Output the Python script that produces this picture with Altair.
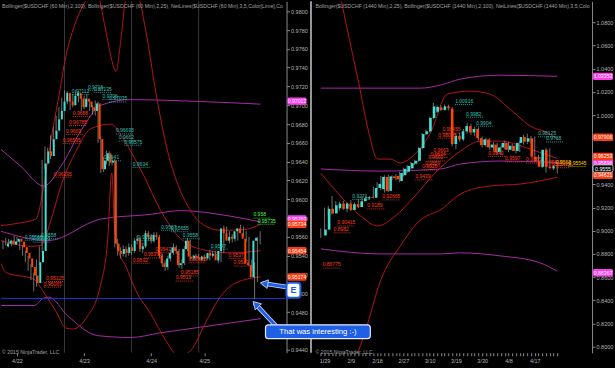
import altair as alt
import pandas as pd

BG = "#000000"
UP = "#40e0d0"
DN = "#ff4500"
WICK = "#8c8c8c"
BB25 = "#b5141c"
BB100 = "#a52aa8"
AXC = "#b4b4b4"
BLUE = "#1f5fe6"
FONT = "Liberation Sans"

# ---------------- left panel : $USDCHF 60 min ----------------
L_OPEN = [0.9550,0.9553,0.9556,0.9552,0.9555,0.9558,0.9555,0.9549,0.9543,0.9537,
          0.9528,0.9519,0.9511,0.9533,0.9545,0.9638,0.9651,0.9646,0.9664,0.9673,
          0.9685,0.9694,0.9704,0.9713,0.9704,0.9700,0.9710,0.9713,0.9707,0.9698,
          0.9707,0.9704,0.9698,0.9694,0.9702,0.9664,0.9632,0.9641,0.9649,0.9639,
          0.9641,0.9553,0.9545,0.9542,0.9547,0.9543,0.9549,0.9545,0.9556,0.9558,
          0.9547,0.9550,0.9564,0.9560,0.9556,0.9562,0.9560,0.9540,0.9532,0.9528,
          0.9537,0.9543,0.9549,0.9545,0.9530,0.9532,0.9547,0.9556,0.9539,0.9537,
          0.9540,0.9538,0.9536,0.9539,0.9537,0.9543,0.9540,0.9542,0.9535,0.9545,
          0.9569,0.9564,0.9556,0.9560,0.9558,0.9566,0.9569,0.9564,0.9558,0.9532,
          0.9530,0.9517,0.9556]
L_CLOSE = [0.9553,0.9556,0.9552,0.9555,0.9558,0.9555,0.9549,0.9543,0.9537,0.9528,
           0.9519,0.9511,0.9533,0.9545,0.9638,0.9651,0.9646,0.9664,0.9673,0.9685,
           0.9694,0.9704,0.9713,0.9704,0.9700,0.9710,0.9713,0.9707,0.9698,0.9707,
           0.9704,0.9698,0.9694,0.9702,0.9664,0.9632,0.9641,0.9649,0.9639,0.9641,
           0.9553,0.9545,0.9542,0.9547,0.9543,0.9549,0.9545,0.9556,0.9558,0.9547,
           0.9550,0.9564,0.9560,0.9556,0.9562,0.9560,0.9540,0.9532,0.9528,0.9537,
           0.9543,0.9549,0.9545,0.9530,0.9532,0.9547,0.9556,0.9539,0.9537,0.9540,
           0.9538,0.9536,0.9539,0.9537,0.9543,0.9540,0.9542,0.9535,0.9545,0.9569,
           0.9564,0.9556,0.9560,0.9558,0.9566,0.9569,0.9564,0.9558,0.9532,0.9530,
           0.9517,0.9556,0.9559]
L_HIGH = [0.9556,0.9559,0.9558,0.9557,0.9561,0.9560,0.9557,0.9551,0.9545,0.9540,
          0.9531,0.9522,0.9536,0.9550,0.9642,0.9656,0.9655,0.9668,0.9677,0.9689,
          0.9698,0.9708,0.9716,0.9715,0.9707,0.9712,0.9716,0.9715,0.9709,0.9710,
          0.9712,0.9706,0.9700,0.9705,0.9704,0.9667,0.9645,0.9652,0.9651,0.9645,
          0.9643,0.9558,0.9549,0.9551,0.9550,0.9553,0.9552,0.9559,0.9562,0.9560,
          0.9554,0.9567,0.9566,0.9563,0.9565,0.9565,0.9562,0.9542,0.9535,0.9540,
          0.9546,0.9553,0.9551,0.9547,0.9536,0.9550,0.9559,0.9557,0.9541,0.9542,
          0.9542,0.9540,0.9541,0.9541,0.9546,0.9545,0.9545,0.9544,0.9548,0.9572,
          0.9571,0.9566,0.9563,0.9562,0.9569,0.9573,0.9571,0.9566,0.9560,0.9536,
          0.9533,0.9560,0.9566]
L_LOW = [0.9547,0.9551,0.9549,0.9550,0.9553,0.9552,0.9546,0.9540,0.9533,0.9524,
         0.9514,0.9502,0.9507,0.9530,0.9543,0.9632,0.9640,0.9643,0.9660,0.9670,
         0.9681,0.9690,0.9700,0.9701,0.9695,0.9698,0.9707,0.9703,0.9694,0.9696,
         0.9700,0.9694,0.9690,0.9689,0.9660,0.9628,0.9629,0.9637,0.9635,0.9636,
         0.9549,0.9540,0.9537,0.9539,0.9538,0.9540,0.9541,0.9543,0.9552,0.9544,
         0.9543,0.9548,0.9556,0.9553,0.9554,0.9557,0.9537,0.9528,0.9524,0.9525,
         0.9534,0.9541,0.9542,0.9527,0.9526,0.9530,0.9545,0.9536,0.9534,0.9535,
         0.9536,0.9534,0.9534,0.9535,0.9535,0.9538,0.9538,0.9532,0.9533,0.9543,
         0.9560,0.9553,0.9554,0.9555,0.9556,0.9564,0.9561,0.9555,0.9529,0.9524,
         0.9494,0.9512,0.9552]

L_DAY_TICKS = [5, 29, 53, 72]
L_DAY_LABELS = ["4/22", "4/23", "4/24", "4/25"]
L_SESSIONS = [22, 46, 70]
L_Y_TICKS = [0.944, 0.946, 0.948, 0.950, 0.952, 0.954, 0.956, 0.958, 0.960, 0.962,
             0.964, 0.966, 0.968, 0.970, 0.972, 0.974, 0.976, 0.978, 0.980]

L_BB25_UPPER = [(-0.7,0.9572),(6.4,0.9575),(11.8,0.9579),(14.3,0.9609),(17.1,0.9662),(20.0,0.9710),
                (22.5,0.9752),(26.1,0.9789),(29.6,0.9811),(33.2,0.9821),(36.8,0.9779),(38.6,0.9752),
                (40.4,0.9736),(42.1,0.9768),(43.9,0.9811),(47.5,0.9821),(51.1,0.9779),(54.6,0.9715),
                (58.9,0.9651),(62.5,0.9616),(66.1,0.9593),(70.7,0.9575),(77.9,0.9567),(86.8,0.9568),
                (92.1,0.95734)]
L_BB25_MID = [(-0.7,0.9556),(10.0,0.9550),(13.6,0.9551),(17.1,0.9577),(20.7,0.9614),(26.1,0.9651),
              (31.4,0.9675),(38.6,0.9680),(42.1,0.9669),(45.7,0.9651),(50.4,0.9625),(56.4,0.9588),
              (63.6,0.9558),(70.7,0.9547),(81.4,0.9543),(92.1,0.95454)]
L_BB25_LOWER = [(-0.7,0.9532),(1.1,0.9522),(11.1,0.9515),(14.6,0.9501),(18.9,0.9481),(22.5,0.9463),
                (25.0,0.9462),(29.6,0.9473),(35.0,0.9510),(37.5,0.9559),(38.9,0.9628),(40.0,0.9566),
                (41.4,0.9545),(43.9,0.9529),(47.5,0.9503),(52.9,0.9478),(58.2,0.9450),(62.9,0.9433),
                (67.1,0.9439),(72.5,0.9469),(77.9,0.9497),(83.2,0.9511),(92.1,0.95174)]
L_BB100_UPPER = [(-0.7,0.9653),(6.4,0.9635),(14.6,0.9614),(20.7,0.9635),(27.9,0.9673),(35.0,0.9700),
                 (45.7,0.9706),(70.7,0.9704),(92.1,0.97012)]
L_BB100_MID = [(-0.7,0.9566),(16.1,0.9556),(35.0,0.9579),(52.9,0.9584),(63.6,0.9588),(81.4,0.9582),
               (92.1,0.95760)]
L_BB100_LOWER = [(-0.7,0.9487),(11.1,0.9487),(14.6,0.9495),(16.4,0.9496),(23.2,0.9476),(33.9,0.9455),
                 (45.7,0.9453),(56.4,0.9458),(70.7,0.9464),(85.0,0.9470),(92.1,0.9473)]
L_BLUE_LINE = [0.94945]

L_NET = [("0.9716",30.4,"c"),("0.97112",24.6,"c"),("0.97135",32.5,"c"),("0.9706",35.6,"c"),
         ("0.97035",38.0,"c"),("0.96695",40.4,"c"),("0.9662",41.4,"c"),("0.96575",43.4,"c"),
         ("0.95565",7.8,"c"),("0.9558",13.6,"c"),("0.95545",10.6,"c"),("0.9641",36.1,"c"),
         ("0.9634",46.4,"c"),("0.9567",56.6,"c"),("0.95655",60.0,"c"),("0.9558",64.3,"c"),
         ("0.9547",74.3,"c"),("0.9556",48.2,"c"),
         ("0.9688",25.0,"r"),("0.96785",23.6,"r"),("0.9669",22.5,"r"),("0.96595",21.4,"r"),
         ("0.96235",18.2,"r"),("0.95125",15.4,"r"),("0.95065",14.6,"r"),("0.9543",54.6,"r"),
         ("0.95375",50.4,"r"),("0.9532",46.4,"r"),("0.9537",80.7,"r"),("0.9529",82.5,"r"),
         ("0.95185",63.6,"r"),("0.9513",61.8,"r"),("0.95325",66.4,"r"),
         ("0.958",89.6,"g"),("0.95735",91.1,"g")]
L_TAG_PINK = ["0.97012", "0.95760"]
L_TAG_RED = ["0.95734", "0.95454", "0.95174"]

# ---------------- right panel : $USDCHF 1440 min ----------------
R_OPEN = [0.8960,0.9010,0.9190,0.9150,0.9195,0.9235,0.9190,0.9235,0.9180,0.9230,
          0.9205,0.9255,0.9280,0.9292,0.9285,0.9370,0.9360,0.9465,0.9345,0.9470,
          0.9475,0.9430,0.9480,0.9510,0.9540,0.9580,0.9605,0.9715,0.9835,0.9860,
          0.9975,1.0030,1.0065,1.0045,1.0075,1.0055,0.9750,0.9820,0.9790,0.9860,
          0.9905,0.9850,0.9880,0.9800,0.9740,0.9790,0.9720,0.9745,0.9680,0.9720,
          0.9760,0.9700,0.9735,0.9690,0.9760,0.9810,0.9770,0.9800,0.9640,0.9600,
          0.9553,0.9700,0.9553,0.9540]
R_CLOSE = [0.9010,0.9190,0.9150,0.9220,0.9235,0.9190,0.9235,0.9180,0.9230,0.9205,
           0.9255,0.9280,0.9290,0.9285,0.9370,0.9405,0.9465,0.9345,0.9470,0.9455,
           0.9445,0.9500,0.9535,0.9560,0.9585,0.9605,0.9715,0.9835,0.9860,0.9975,
           1.0075,1.0070,1.0045,1.0075,1.0060,0.9750,0.9820,0.9790,0.9860,0.9905,
           0.9850,0.9880,0.9800,0.9740,0.9790,0.9720,0.9745,0.9680,0.9720,0.9760,
           0.9700,0.9735,0.9690,0.9760,0.9810,0.9770,0.9800,0.9640,0.9600,0.9553,
           0.9700,0.9553,0.9540,0.9558]
R_HIGH = [0.9020,0.9200,0.9215,0.9300,0.9255,0.9250,0.9260,0.9245,0.9265,0.9245,
          0.9275,0.9300,0.9305,0.9300,0.9380,0.9420,0.9475,0.9480,0.9485,0.9480,
          0.9490,0.9510,0.9545,0.9570,0.9595,0.9615,0.9725,0.9845,0.9875,0.9985,
          1.0105,1.0085,1.0085,1.0092,1.0090,1.0070,0.9840,0.9850,0.9880,0.9930,
          0.9925,0.9900,0.9895,0.9815,0.9805,0.9800,0.9765,0.9760,0.9735,0.9780,
          0.9770,0.9750,0.9745,0.9775,0.9830,0.9840,0.9820,0.9815,0.9655,0.9610,
          0.9716,0.9713,0.9569,0.9573]
R_LOW = [0.8938,0.9000,0.9130,0.9140,0.9180,0.9175,0.9180,0.9160,0.9170,0.9190,
         0.9195,0.9240,0.9270,0.9270,0.9280,0.9360,0.9350,0.9330,0.9335,0.9440,
         0.9435,0.9420,0.9470,0.9500,0.9530,0.9570,0.9595,0.9705,0.9825,0.9850,
         0.9965,1.0020,1.0035,1.0040,1.0040,0.9730,0.9705,0.9770,0.9775,0.9840,
         0.9830,0.9820,0.9780,0.9720,0.9725,0.9700,0.9690,0.9660,0.9655,0.9705,
         0.9680,0.9690,0.9670,0.9680,0.9745,0.9750,0.9755,0.9625,0.9590,0.9540,
         0.9502,0.9538,0.9524,0.9494]

R_DATE_TICKS = [1, 8, 15, 22, 29, 36, 43, 50, 57]
R_DATE_LABELS = ["1/29", "2/9", "2/18", "2/27", "3/10", "3/19", "3/30", "4/8", "4/17"]
R_MINOR_TICKS = list(range(64))
R_Y_TICKS = [0.80, 0.82, 0.84, 0.86, 0.88, 0.90, 0.92, 0.94, 0.96, 0.98, 1.00, 1.02, 1.04, 1.06, 1.08]

R_BB25_UPPER = [(0,1.16),(3.9,1.1243),(6.6,1.0811),(10.0,1.0293),(12.7,0.9862),(15.1,0.9620),
                (18.5,0.9620),(21.2,0.9586),(23.9,0.9629),(29.2,0.9845),(33.7,1.0181),(39.8,1.0207),
                (45.1,1.0181),(50.4,1.0052),(55.8,0.9905),(61.1,0.9836),(63.0,0.97906)]
R_BB25_MID = [(0,0.9499),(5.2,0.9301),(10.6,0.9128),(15.1,0.9042),(19.9,0.9128),(23.9,0.9258),
              (31.0,0.9517),(37.2,0.9689),(42.5,0.9775),(47.8,0.9775),(55.8,0.9706),(63.0,0.96253)]
R_BB25_LOWER = [(0,0.7530),(6.6,0.7704),(11.9,0.8136),(15.9,0.8567),(21.2,0.8869),(25.7,0.9068),
                (32.6,0.9197),(37.2,0.9318),(45.1,0.9387),(53.1,0.9404),(63.0,0.94621)]
R_BB100_UPPER = [(0,1.0233),(26.6,1.0233),(31.8,1.0259),(37.2,1.0311),(47.8,1.0345),(63.0,1.03352)]
R_BB100_MID = [(0,0.9534),(15.9,0.9516),(31.8,0.9534),(37.2,0.9577),(47.8,0.9603),(63.0,0.9590)]
R_BB100_LOWER = [(0,0.8843),(15.9,0.8800),(31.8,0.8800),(37.2,0.8809),(47.8,0.8783),(58.4,0.8723),
                 (63.0,0.8650)]

R_NET = [("0.90415",4.4,"r"),("0.8982",3.4,"r"),("0.86775",0.5,"r"),("0.9189",12.4,"r"),
         ("0.92665",16.4,"r"),("0.9439",25.2,"r"),("0.9663",30.0,"r"),("0.9634",29.2,"r"),
         ("0.9603",28.6,"r"),("0.9559",27.8,"r"),("0.9525",27.0,"r"),("0.98455",32.4,"r"),
         ("0.98005",31.3,"r"),("0.9643",44.6,"r"),("0.9597",49.1,"r"),("0.9585",54.7,"r"),
         ("0.95615",59.6,"r"),("0.95445",61.6,"r"),
         ("0.9271",8.4,"c"),("1.00916",35.8,"c"),("0.9982",38.7,"c"),("0.9904",41.4,"c"),
         ("0.98125",57.9,"c"),("0.9768",60.0,"c"),
         ("0.9563",62.6,"y"),("0.95545",66.0,"y")]
R_TAG_PINK = ["1.03352", "0.95896", "0.86367"]
R_TAG_RED = ["0.97906", "0.96253", "0.94621"]
R_TAG_LAST = ["0.9555"]

TITLE_L = "Bollinger($USDCHF (60 Min),2,100), Bollinger($USDCHF (60 Min),2,25), NetLines($USDCHF (60 Min),3,5,Color[Lime],Co"
TITLE_R = "Bollinger($USDCHF (1440 Min),2,25), Bollinger($USDCHF (1440 Min),2,100), NetLines($USDCHF (1440 Min),3,5,Colo"
COPY = "\u00a9 2015 NinjaTrader, LLC"
NOTE_E = "E"
NOTE_TEXT = "That was interesting :-)"
E_BOX = [(101.4, 0.95112), (106.4, 0.94952)]
NOTE_BOX = [(93.9, 0.94665), (131.4, 0.94517)]
ARROW_1 = [(105.4, 0.95048), (93.4, 0.95104)]
ARROW_2 = [(97.9, 0.94644), (90.4, 0.94884)]

NET_COLORS = {"c": "#30c0b8", "r": "#ff3c1e", "g": "#44ff44", "y": "#ffcc00"}

# ---------------- scales ----------------
def LX():
    return alt.Scale(domain=[-0.71, 101.43], range=[0, 286], nice=False, zero=False)
def LY():
    return alt.Scale(domain=[0.94368, 0.98106], nice=False, zero=False)
def RX():
    return alt.Scale(domain=[-2.21, 72.26], range=[312, 592], nice=False, zero=False)
def RY():
    return alt.Scale(domain=[0.79456, 1.09838], nice=False, zero=False)


def label_expr(vals, labels):
    parts = [f"datum.value == {v} ? '{t}'" for v, t in zip(vals, labels)]
    return " : ".join(parts) + " : ''"


def candles(o, h, l, c, xs, ys, width, x_axis, y_axis):
    df = pd.DataFrame({"i": range(len(c)), "o": o, "h": h, "l": l, "c": c})
    base = alt.Chart(df)
    wick = base.mark_rule(color=WICK, strokeWidth=0.8).encode(
        x=alt.X("i:Q", scale=xs(), axis=x_axis),
        y=alt.Y("l:Q", scale=ys(), axis=y_axis),
        y2="h:Q",
    )
    body = base.mark_bar(size=width).encode(
        x=alt.X("i:Q", scale=xs(), axis=None),
        y=alt.Y("o:Q", scale=ys(), axis=None),
        y2="c:Q",
        color=alt.condition("datum.c >= datum.o", alt.value(UP), alt.value(DN)),
    )
    return [wick, body]


def bands(named, xs, ys, color, width=1.0):
    rows = []
    for name, pts in named.items():
        for i, v in pts:
            rows.append({"band": name, "i": i, "p": v})
    df = pd.DataFrame(rows)
    return alt.Chart(df).mark_line(color=color, strokeWidth=width, interpolate="monotone", clip=True).encode(
        x=alt.X("i:Q", scale=xs(), axis=None),
        y=alt.Y("p:Q", scale=ys(), axis=None),
        detail="band:N",
    )


def netlines(labels, xs, ys, span):
    df = pd.DataFrame(labels, columns=["t", "i", "k"])
    df["p"] = df["t"].astype(float)
    df["i2"] = df["i"] + span
    df["col"] = df["k"].map(NET_COLORS)
    rule = alt.Chart(df).mark_rule(strokeDash=[1, 1], strokeWidth=0.8).encode(
        x=alt.X("i:Q", scale=xs(), axis=None), x2="i2:Q",
        y=alt.Y("p:Q", scale=ys(), axis=None),
        color=alt.Color("col:N", scale=None),
    )
    txt = alt.Chart(df).mark_text(align="left", baseline="bottom", fontSize=5, font=FONT, dy=-0.6).encode(
        x=alt.X("i:Q", scale=xs(), axis=None),
        y=alt.Y("p:Q", scale=ys(), axis=None),
        text="t:N",
        color=alt.Color("col:N", scale=None),
    )
    return [rule, txt]


def tags(texts, ys, x0, x1, fill, yoff=0.0, txtcolor="white", **kw):
    df = pd.DataFrame({"t": texts, "p": [float(t) for t in texts]})
    rect = alt.Chart(df).mark_rect(fill=fill, cornerRadius=1.5, yOffset=-3.7 + yoff, y2Offset=3.7 + yoff, **kw).encode(
        x=alt.value(x0), x2=alt.value(x1),
        y=alt.Y("p:Q", scale=ys(), axis=None), y2="p:Q",
    )
    txt = alt.Chart(df).mark_text(color=txtcolor, fontSize=5.2, font=FONT, align="center", baseline="middle", dy=yoff).encode(
        x=alt.value((x0 + x1) / 2),
        y=alt.Y("p:Q", scale=ys(), axis=None),
        text="t:N",
    )
    return [rect, txt]


def ptext(s, x, y, **kw):
    return alt.Chart(pd.DataFrame({"t": [s]})).mark_text(font=FONT, align="left", baseline="middle", **kw).encode(
        x=alt.value(x), y=alt.value(y), text="t:N")


axis_common = dict(labelFontSize=5.5, labelColor=AXC, labelFont=FONT, tickColor="#8a8a8a",
                   tickSize=3, grid=False, title=None, labelOverlap=False, labelFlush=False)

LXA = alt.Axis(orient="bottom", values=L_DAY_TICKS, labelExpr=label_expr(L_DAY_TICKS, L_DAY_LABELS),
               domain=False, labelPadding=3, **axis_common)
LYA = alt.Axis(orient="right", offset=-329, values=L_Y_TICKS, format=".4f", domainColor="#8a8a8a",
               labelPadding=1, **axis_common)
RXA = alt.Axis(orient="bottom", values=R_MINOR_TICKS, labelExpr=label_expr(R_DATE_TICKS, R_DATE_LABELS),
               domain=False, labelPadding=3, **axis_common)
RYA = alt.Axis(orient="right", offset=-23, values=R_Y_TICKS, format=".4f", domainColor="#8a8a8a",
               labelPadding=1, **axis_common)

# ---------------- left layers ----------------
sess = alt.Chart(pd.DataFrame({"i": L_SESSIONS})).mark_rule(color="#383838", strokeWidth=1).encode(
    x=alt.X("i:Q", scale=LX(), axis=None), y=alt.value(0), y2=alt.value(352))
blue = alt.Chart(pd.DataFrame({"p": L_BLUE_LINE})).mark_rule(color="#1a2fe0", strokeWidth=1.2).encode(
    y=alt.Y("p:Q", scale=LY(), axis=None), x=alt.value(0), x2=alt.value(286))

left = [
    sess,
    bands({"u": L_BB100_UPPER, "m": L_BB100_MID, "l": L_BB100_LOWER}, LX, LY, BB100),
    bands({"u": L_BB25_UPPER, "m": L_BB25_MID, "l": L_BB25_LOWER}, LX, LY, BB25),
    blue,
    *candles(L_OPEN, L_HIGH, L_LOW, L_CLOSE, LX, LY, 2.0, LXA, LYA),
    *netlines(L_NET, LX, LY, 6.4),
    *tags(L_TAG_PINK, LY, 287, 306, "#ff3cf0", yoff=-3.0),
    *tags(L_TAG_RED, LY, 287, 306, "#ff3a10"),
    ptext(TITLE_L, 1, 5, fontSize=5.2, color="#a0a0a0"),
    ptext(COPY, 1, 351, fontSize=5.2, color="#a0a0a0"),
]

# ---------------- right layers ----------------
right = [
    bands({"u": R_BB100_UPPER, "m": R_BB100_MID, "l": R_BB100_LOWER}, RX, RY, BB100),
    bands({"u": R_BB25_UPPER, "m": R_BB25_MID, "l": R_BB25_LOWER}, RX, RY, BB25),
    *candles(R_OPEN, R_HIGH, R_LOW, R_CLOSE, RX, RY, 2.6, RXA, RYA),
    *netlines(R_NET, RX, RY, 4.8),
    *tags(R_TAG_PINK, RY, 593, 613, "#ff3cf0"),
    *tags(R_TAG_RED, RY, 593, 613, "#ff3a10", yoff=-2.0),
    *tags(R_TAG_LAST, RY, 593, 613, "#000000", yoff=2.0, stroke="#e0e0e0", strokeWidth=0.8),
    ptext(TITLE_R, 315, 5, fontSize=5.2, color="#a0a0a0"),
    ptext(COPY, 315, 351, fontSize=5.2, color="#a0a0a0"),
]

# ---------------- annotations (left-panel coordinates) ----------------
def box(pts, **kw):
    df = pd.DataFrame({"i": [pts[0][0]], "i2": [pts[1][0]], "p": [pts[0][1]], "p2": [pts[1][1]]})
    return alt.Chart(df).mark_rect(**kw).encode(
        x=alt.X("i:Q", scale=LX(), axis=None), x2="i2:Q",
        y=alt.Y("p:Q", scale=LY(), axis=None), y2="p2:Q")


def arrow(pts, angle):
    df = pd.DataFrame({"i": [pts[0][0], pts[1][0]], "p": [pts[0][1], pts[1][1]]})
    halo = alt.Chart(df).mark_line(color="#cfdcff", strokeWidth=4.6, strokeCap="round").encode(
        x=alt.X("i:Q", scale=LX(), axis=None), y=alt.Y("p:Q", scale=LY(), axis=None))
    shaft = alt.Chart(df).mark_line(color=BLUE, strokeWidth=3.0, strokeCap="round").encode(
        x=alt.X("i:Q", scale=LX(), axis=None), y=alt.Y("p:Q", scale=LY(), axis=None))
    head_df = pd.DataFrame({"i": [pts[1][0]], "p": [pts[1][1]]})
    head = alt.Chart(head_df).mark_point(shape="triangle-up", filled=True, size=75, angle=angle,
                                         fill=BLUE, stroke="#cfdcff", strokeWidth=0.8, opacity=1).encode(
        x=alt.X("i:Q", scale=LX(), axis=None), y=alt.Y("p:Q", scale=LY(), axis=None))
    return [halo, shaft, head]


def box_text(s, pts, **kw):
    df = pd.DataFrame({"t": [s], "i": [(pts[0][0] + pts[1][0]) / 2], "p": [(pts[0][1] + pts[1][1]) / 2]})
    return alt.Chart(df).mark_text(font=FONT, align="center", baseline="middle", **kw).encode(
        x=alt.X("i:Q", scale=LX(), axis=None), y=alt.Y("p:Q", scale=LY(), axis=None), text="t:N")


sep = alt.Chart(pd.DataFrame({"k": [0]})).mark_rule(color="#c8c8c8", strokeWidth=1.5).encode(
    x=alt.value(310.5), y=alt.value(0), y2=alt.value(352))

notes = [
    sep,
    *arrow(ARROW_1, 279),
    *arrow(ARROW_2, 315),
    box(E_BOX, fill="#ffffff", stroke=BLUE, strokeWidth=2, cornerRadius=3),
    box_text(NOTE_E, E_BOX, fontSize=9, fontWeight="bold", color=BLUE),
    box(NOTE_BOX, fill=BLUE, stroke="#dfe8ff", strokeWidth=1.2, cornerRadius=3),
    box_text(NOTE_TEXT, NOTE_BOX, fontSize=7.6, color="#ffffff"),
]

chart = alt.layer(*left, *right, *notes).resolve_scale(
    x="independent", y="independent"
).properties(
    width=615, height=352, background=BG,
    padding={"left": 0, "right": 0, "top": 0, "bottom": 3},
).configure_view(strokeWidth=0)

chart.save("out.html", embed_options={"renderer": "svg", "actions": False})
